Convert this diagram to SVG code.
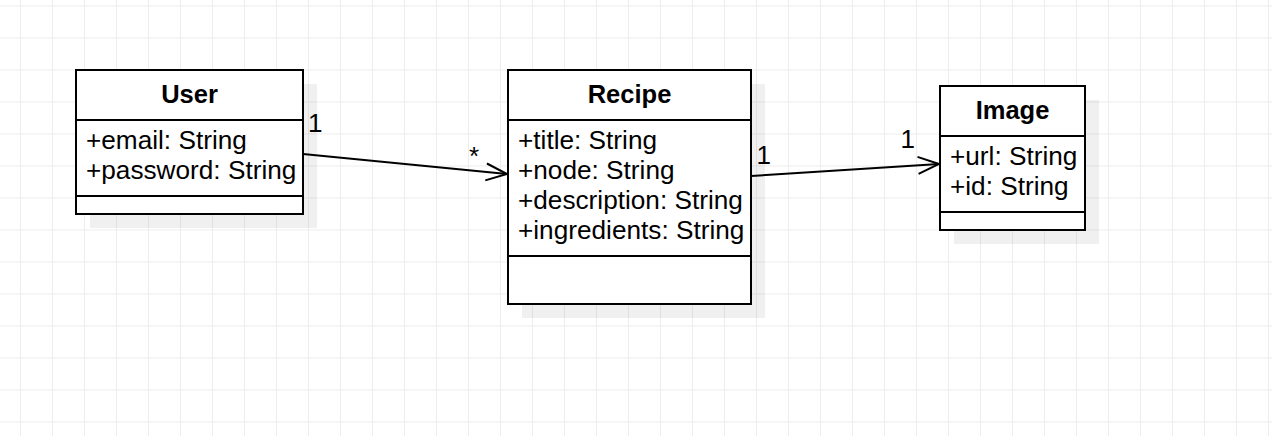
<svg xmlns="http://www.w3.org/2000/svg" width="1272" height="436" viewBox="0 0 1272 436">
  <defs>
    <pattern id="grid" patternUnits="userSpaceOnUse" x="20" y="5.5" width="32" height="32">
      <path d="M0.5 0V32M0 0.5H32" fill="none" stroke="#ededed" stroke-width="1"/>
    </pattern>
    <marker id="open" markerUnits="userSpaceOnUse" viewBox="-24 -12 26 24" markerWidth="26" markerHeight="24" refX="0" refY="0" orient="auto">
      <path d="M-21,-8.5 L0,0 L-21,8.5" fill="none" stroke="#000" stroke-width="2"/>
    </marker>
  </defs>
  <style>
    .shadow { fill: #000; fill-opacity: 0.06; }
    .box { fill: #fff; stroke: #000; stroke-width: 2; }
    .sep { stroke: #000; stroke-width: 2; fill: none; }
    .title { font-family: "Liberation Sans", Arial, sans-serif; font-size: 25.5px; font-weight: bold; text-anchor: middle; fill: #000; }
    .attr { font-family: "Liberation Sans", Arial, sans-serif; font-size: 26.2px; fill: #000; }
    .lbl { font-family: "Liberation Sans", Arial, sans-serif; font-size: 26px; fill: #000; }
    .edge { fill: none; stroke: #000; stroke-width: 2; }
  </style>
  <rect x="0" y="0" width="1272" height="436" fill="#fff"/>
  <rect x="0" y="0" width="1272" height="436" fill="url(#grid)"/>

  <g id="user">
    <rect class="shadow" x="90" y="84" width="227" height="144"/>
    <rect class="box" x="76" y="70" width="227" height="144"/>
    <line class="sep" x1="76" y1="120" x2="303" y2="120"/>
    <line class="sep" x1="76" y1="196" x2="303" y2="196"/>
    <text class="title" x="189.5" y="103">User</text>
    <text class="attr" x="86" y="149">+email: String</text>
    <text class="attr" x="86" y="179">+password: String</text>
  </g>

  <g id="recipe">
    <rect class="shadow" x="522" y="84" width="243" height="234"/>
    <rect class="box" x="508" y="70" width="243" height="234"/>
    <line class="sep" x1="508" y1="120" x2="751" y2="120"/>
    <line class="sep" x1="508" y1="256" x2="751" y2="256"/>
    <text class="title" x="629.5" y="103">Recipe</text>
    <text class="attr" x="518" y="149">+title: String</text>
    <text class="attr" x="518" y="179">+node: String</text>
    <text class="attr" x="518" y="209">+description: String</text>
    <text class="attr" x="518" y="239">+ingredients: String</text>
  </g>

  <g id="image">
    <rect class="shadow" x="954" y="100" width="145" height="144"/>
    <rect class="box" x="940" y="86" width="145" height="144"/>
    <line class="sep" x1="940" y1="136" x2="1085" y2="136"/>
    <line class="sep" x1="940" y1="212" x2="1085" y2="212"/>
    <text class="title" x="1012.5" y="119">Image</text>
    <text class="attr" x="950" y="165">+url: String</text>
    <text class="attr" x="950" y="195">+id: String</text>
  </g>

  <g id="connectors">
    <path class="edge" d="M303,154 L507,174" marker-end="url(#open)"/>
    <text class="lbl" x="308" y="132">1</text>
    <text class="lbl" x="469" y="165">*</text>
    <path class="edge" d="M751,176 L939,164" marker-end="url(#open)"/>
    <text class="lbl" x="756.5" y="164">1</text>
    <text class="lbl" x="900.5" y="148">1</text>
  </g>
</svg>
